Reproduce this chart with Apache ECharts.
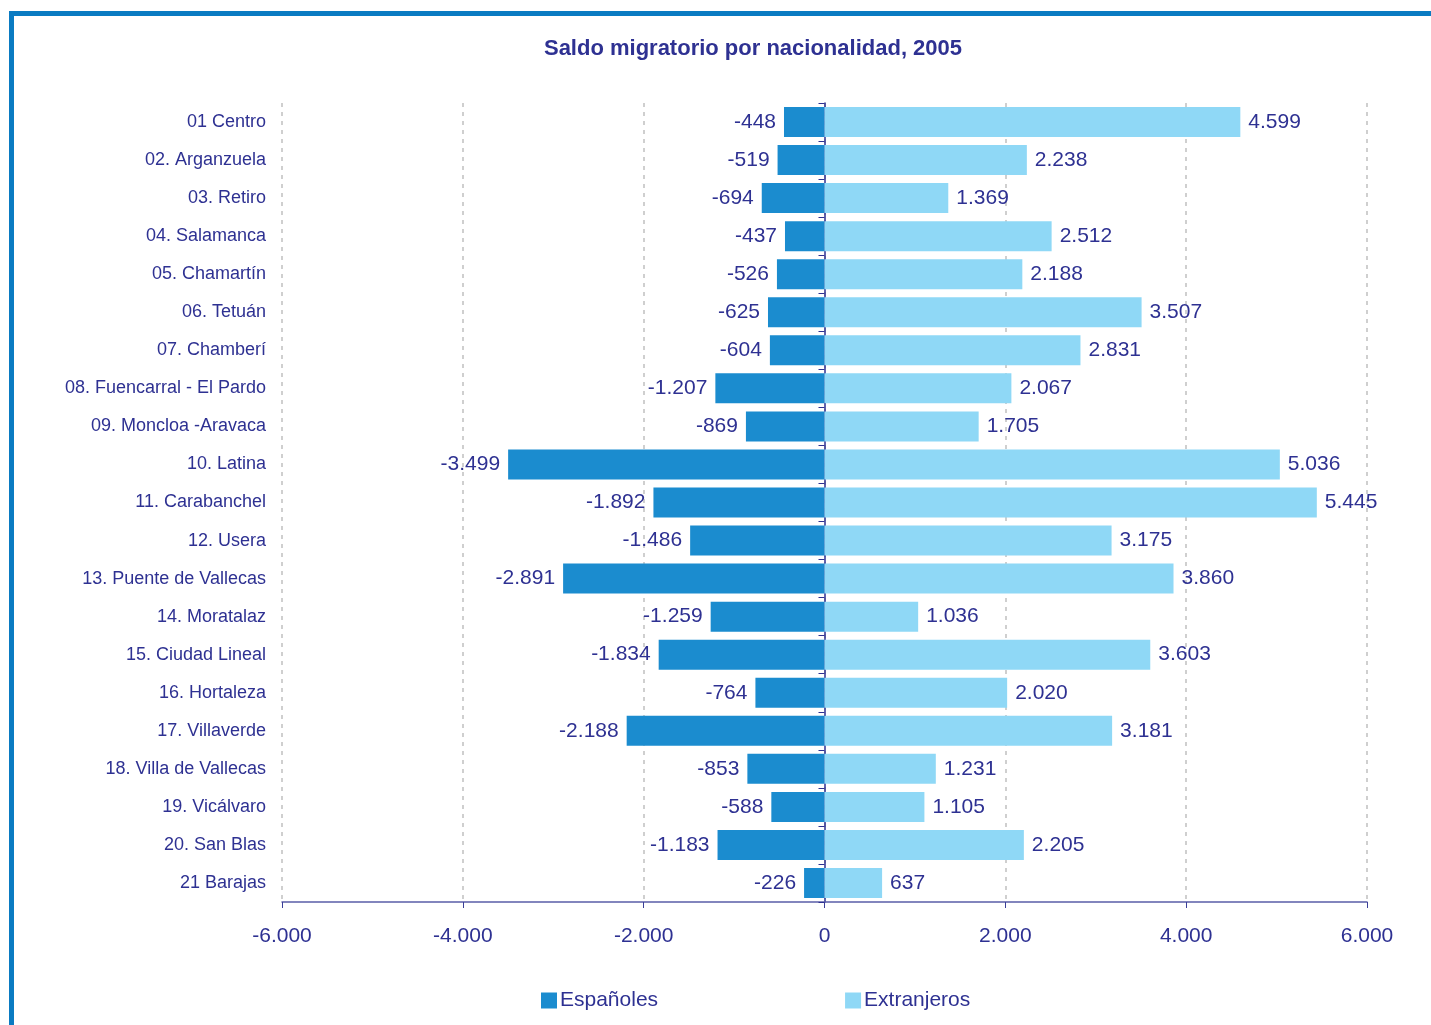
<!DOCTYPE html>
<html>
<head>
<meta charset="utf-8">
<script src="https://cdn.jsdelivr.net/npm/echarts@6/dist/echarts.min.js"></script>
<style>
html,body{margin:0;padding:0;background:#fff;}
#chart{width:1431px;height:1025px;}
</style>
</head>
<body>
<div id="chart"></div>
<script>
var categories = ["01 Centro", "02. Arganzuela", "03. Retiro", "04. Salamanca", "05. Chamartín", "06. Tetuán", "07. Chamberí", "08. Fuencarral - El Pardo", "09. Moncloa -Aravaca", "10. Latina", "11. Carabanchel", "12. Usera", "13. Puente de Vallecas", "14. Moratalaz", "15. Ciudad Lineal", "16. Hortaleza", "17. Villaverde", "18. Villa de Vallecas", "19. Vicálvaro", "20. San Blas", "21 Barajas"];
var espanoles = [-448, -519, -694, -437, -526, -625, -604, -1207, -869, -3499, -1892, -1486, -2891, -1259, -1834, -764, -2188, -853, -588, -1183, -226];
var extranjeros = [4599, 2238, 1369, 2512, 2188, 3507, 2831, 2067, 1705, 5036, 5445, 3175, 3860, 1036, 3603, 2020, 3181, 1231, 1105, 2205, 637];
var xTicks = [-6000, -4000, -2000, 0, 2000, 4000, 6000];

var txt = '#2e3192';
var font = '"Liberation Sans", Arial, sans-serif';
function fmt(v) {
  var s = Math.abs(v).toString().replace(/\B(?=(\d{3})+(?!\d))/g, '.');
  return (v < 0 ? '-' : '') + s;
}

var chart = echarts.init(document.getElementById('chart'));
chart.setOption({
  backgroundColor: '#fff',
  animation: false,
  textStyle: {fontFamily: font, color: txt},
  title: {
    text: 'Saldo migratorio por nacionalidad, 2005',
    left: 748, top: 33, textAlign: 'center',
    textStyle: {fontFamily: font, fontSize: 22, fontWeight: 'bold', color: txt}
  },
  graphic: [
    {type: 'rect', shape: {x: 9, y: 11, width: 1422, height: 5}, style: {fill: '#0a7bc2'}},
    {type: 'rect', shape: {x: 9, y: 11, width: 5, height: 1014}, style: {fill: '#0a7bc2'}}
  ],
  legend: {
    left: 536, top: 985,
    itemWidth: 16, itemHeight: 16, itemGap: 187,
    icon: 'rect',
    textStyle: {fontFamily: font, fontSize: 21, color: txt, padding: [0, 0, 0, -2]},
    data: ['Españoles', 'Extranjeros']
  },
  grid: {left: 282, right: 64, top: 103, bottom: 123},
  xAxis: {
    type: 'value', min: xTicks[0], max: xTicks[xTicks.length - 1], interval: 2000,
    axisLine: {show: true, onZero: false, lineStyle: {color: '#5a5ea8', width: 1.5}},
    axisTick: {show: true, length: 6, lineStyle: {color: '#3a3e98'}},
    axisLabel: {fontFamily: font, fontSize: 21, color: txt, margin: 24, formatter: fmt},
    splitLine: {show: true, lineStyle: {color: '#c0c0c0', type: [4, 5], width: 1.5}}
  },
  yAxis: [
    {
      type: 'category', data: categories, inverse: true,
      axisLine: {show: false, onZero: false}, axisTick: {show: false},
      axisLabel: {fontFamily: font, fontSize: 18, color: txt, margin: 16, padding: [4, 0, 0, 0]}
    },
    {
      type: 'category', data: categories, inverse: true, position: 'left',
      axisLine: {show: true, onZero: true, lineStyle: {color: '#2e3192', width: 1.5}},
      axisTick: {show: true, length: 6, lineStyle: {color: '#2e3192'}},
      axisLabel: {show: false}
    }
  ],
  series: [
    {
      name: 'Españoles', type: 'bar', data: espanoles, barWidth: 30, barGap: '-100%',
      itemStyle: {color: '#1b8ccf'},
      label: {show: true, position: 'left', distance: 8, fontFamily: font, fontSize: 21, color: txt,
        formatter: function (p) { return fmt(p.value); }}
    },
    {
      name: 'Extranjeros', type: 'bar', data: extranjeros, barWidth: 30, barGap: '-100%',
      itemStyle: {color: '#8fd8f6'},
      label: {show: true, position: 'right', distance: 8, fontFamily: font, fontSize: 21, color: txt,
        formatter: function (p) { return fmt(p.value); }}
    }
  ]
});
</script>
</body>
</html>
